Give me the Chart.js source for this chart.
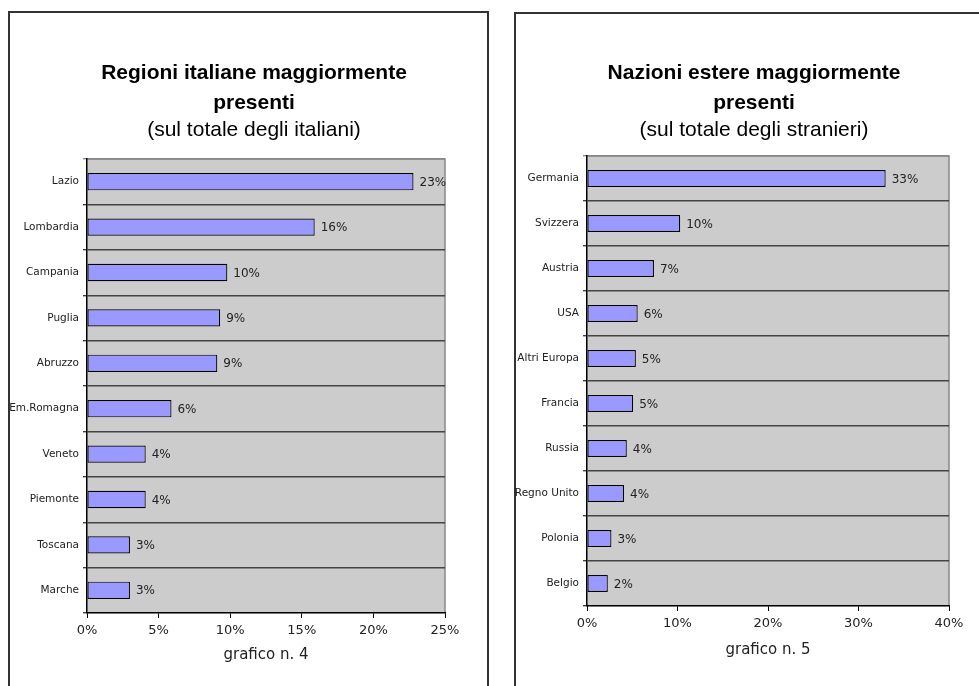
<!DOCTYPE html>
<html>
<head>
<meta charset="utf-8">
<script src="https://cdn.jsdelivr.net/npm/chart.js@4.4.1/dist/chart.umd.min.js"></script>
<style>
  html, body { margin: 0; padding: 0; background: #fff; width: 979px; height: 686px; overflow: hidden; position: relative; }
  .panel { position: absolute; border: 2px solid #333; box-sizing: border-box; }
  #p1 { left: 8px; top: 11px; width: 481px; height: 720px; }
  #p2 { left: 514px; top: 12px; width: 520px; height: 720px; }
  canvas { position: absolute; top: 0; }
  #c1 { left: 9px; }
  #c2 { left: 515px; }
</style>
</head>
<body>
<div class="panel" id="p1"></div>
<div class="panel" id="p2"></div>
<canvas id="c1" width="490" height="686" style="width:490px;height:686px"></canvas>
<canvas id="c2" width="478" height="686" style="width:478px;height:686px"></canvas>
<script>
// grafico n. 4 - regioni italiane (% sul totale degli italiani)
const regioni = ['Lazio', 'Lombardia', 'Campania', 'Puglia', 'Abruzzo', 'Em.Romagna', 'Veneto', 'Piemonte', 'Toscana', 'Marche'];
const quoteRegioni = [22.8, 15.9, 9.8, 9.3, 9.1, 5.9, 4.1, 4.1, 3.0, 3.0];
const ticksRegioni = [0, 5, 10, 15, 20, 25];

// grafico n. 5 - nazioni estere (% sul totale degli stranieri)
const nazioni = ['Germania', 'Svizzera', 'Austria', 'USA', 'Altri Europa', 'Francia', 'Russia', 'Regno Unito', 'Polonia', 'Belgio'];
const quoteNazioni = [33.0, 10.3, 7.4, 5.6, 5.4, 5.1, 4.4, 4.1, 2.7, 2.3];
const ticksNazioni = [0, 10, 20, 30, 40];

const barFill = '#9999FF';
const plotGray = '#CCCCCC';
const labelFont = 'DejaVu Sans';
const titleFont = 'Liberation Sans';

// grey plot background + light top/right frame, like the old spreadsheet charts
const plotBg = {
    id: 'plotBg',
    beforeDraw(chart) {
        const { ctx, chartArea: a } = chart;
        ctx.save();
        ctx.fillStyle = plotGray;
        ctx.fillRect(a.left, a.top, a.right - a.left, a.bottom - a.top);
        ctx.strokeStyle = '#888';
        ctx.lineWidth = 1.5;
        ctx.beginPath();
        ctx.moveTo(a.left, a.top);
        ctx.lineTo(a.right, a.top);
        ctx.lineTo(a.right, a.bottom);
        ctx.stroke();
        ctx.restore();
    }
};

// "23%" style labels at the end of each bar
const valueLabels = {
    id: 'valueLabels',
    afterDatasetsDraw(chart) {
        const ctx = chart.ctx;
        const meta = chart.getDatasetMeta(0);
        const data = chart.data.datasets[0].data;
        ctx.save();
        ctx.font = '12px "' + labelFont + '"';
        ctx.fillStyle = '#222';
        ctx.textAlign = 'left';
        ctx.textBaseline = 'middle';
        meta.data.forEach((bar, i) => {
            ctx.fillText(Math.round(data[i]) + '%', bar.x + 6, bar.y + 1);
        });
        ctx.restore();
    }
};

function makeChart(id, opt) {
    const ctx = document.getElementById(id).getContext('2d');
    return new Chart(ctx, {
        type: 'bar',
        data: {
            labels: opt.labels,
            datasets: [{
                data: opt.values,
                backgroundColor: barFill,
                borderColor: '#000',
                borderWidth: 1.2,
                borderSkipped: false,
                barPercentage: 0.38,
                categoryPercentage: 1
            }]
        },
        options: {
            indexAxis: 'y',
            responsive: false,
            animation: false,
            layout: { padding: 0 },
            plugins: {
                legend: { display: false },
                tooltip: { enabled: false },
                title: {
                    display: true,
                    text: opt.title,
                    color: '#000',
                    font: { family: titleFont, size: 21, weight: 'bold', lineHeight: 30 / 21 },
                    padding: { top: 58, bottom: 0 }
                },
                subtitle: {
                    display: true,
                    text: opt.subtitle,
                    color: '#000',
                    font: { family: titleFont, size: 21, lineHeight: 24 / 21 },
                    padding: { top: 0, bottom: opt.subGap }
                }
            },
            scales: {
                x: {
                    min: opt.ticks[0],
                    max: opt.ticks[opt.ticks.length - 1],
                    afterBuildTicks: s => { s.ticks = opt.ticks.map(v => ({ value: v })); },
                    afterFit: s => { s.height = opt.xHeight; },
                    grid: { drawOnChartArea: false, tickLength: 5, color: '#000' },
                    border: { display: true, color: '#000', width: 1.2 },
                    ticks: {
                        color: '#222',
                        padding: 5,
                        font: { family: labelFont, size: 13 },
                        callback: v => v + '%'
                    },
                    title: {
                        display: true,
                        text: opt.caption,
                        color: '#222',
                        font: { family: labelFont, size: 15 },
                        padding: { top: 0, bottom: opt.captionGap }
                    }
                },
                y: {
                    afterFit: s => { s.width = opt.yWidth; },
                    grid: {
                        offset: true,
                        tickLength: 4,
                        lineWidth: 1.4,
                        color: c => (c.type === 'tick' && c.index === 0) ? '#888' : '#444'
                    },
                    border: { display: true, color: '#000', width: 1.5 },
                    ticks: {
                        color: '#222',
                        padding: 4,
                        autoSkip: false,
                        font: { family: labelFont, size: 10.5 }
                    }
                },
                pad: {
                    type: 'linear',
                    axis: 'y',
                    position: 'right',
                    display: true,
                    grid: { display: false },
                    border: { display: false },
                    ticks: { display: false },
                    afterFit: s => { s.width = opt.padRight; }
                }
            }
        },
        plugins: [plotBg, valueLabels]
    });
}

makeChart('c1', {
    labels: regioni,
    values: quoteRegioni,
    ticks: ticksRegioni,
    title: ['Regioni italiane maggiormente', 'presenti'],
    subtitle: '(sul totale degli italiani)',
    caption: 'grafico n. 4',
    subGap: 17,
    yWidth: 78,
    padRight: 54,
    xHeight: 73,
    captionGap: 22
});

makeChart('c2', {
    labels: nazioni,
    values: quoteNazioni,
    ticks: ticksNazioni,
    title: ['Nazioni estere maggiormente', 'presenti'],
    subtitle: '(sul totale degli stranieri)',
    caption: 'grafico n. 5',
    subGap: 14,
    yWidth: 72,
    padRight: 44,
    xHeight: 80,
    captionGap: 27
});
</script>
</body>
</html>
